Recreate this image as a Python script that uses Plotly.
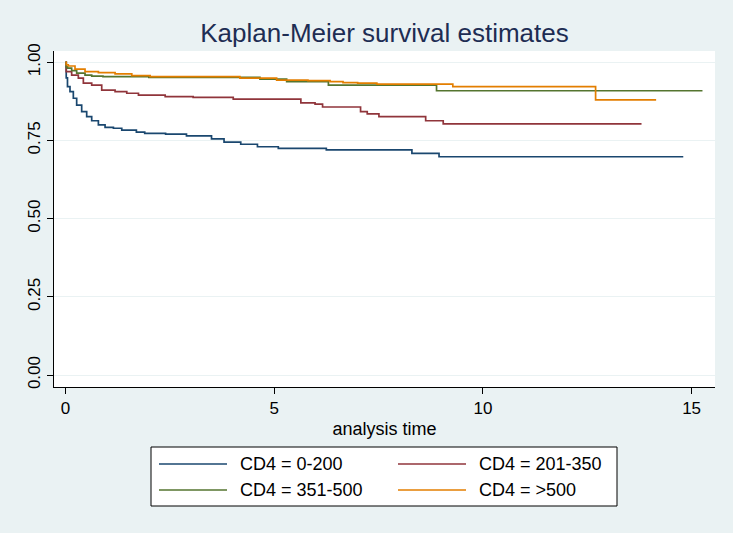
import plotly.graph_objects as go

# Kaplan-Meier step curves
groups = ["CD4 = 0-200", "CD4 = 201-350", "CD4 = 351-500", "CD4 = >500"]
colors = ["#1a476f", "#90353b", "#55752f", "#e37e00"]

t_0_200 = [0, 0.02, 0.05, 0.11, 0.19, 0.27, 0.39, 0.51, 0.63, 0.79, 0.95, 1.15, 1.35,
           1.7, 1.9, 2.4, 2.9, 3.5, 3.8, 4.2, 4.6, 5.1, 6.25, 8.3, 8.95, 14.8]
s_0_200 = [1, 0.95, 0.922, 0.906, 0.885, 0.863, 0.842, 0.826, 0.813, 0.80, 0.792, 0.789, 0.783,
           0.777, 0.773, 0.770, 0.765, 0.755, 0.745, 0.738, 0.730, 0.725, 0.720, 0.709, 0.698, 0.698]

t_201_350 = [0, 0.02, 0.15, 0.31, 0.43, 0.63, 0.87, 1.19, 1.47, 1.75, 2.39, 3.06, 4.02,
             5.64, 5.98, 6.16, 7.07, 7.23, 7.51, 8.63, 9.05, 13.8]
s_201_350 = [1, 0.97, 0.959, 0.949, 0.933, 0.927, 0.911, 0.906, 0.901, 0.895, 0.89, 0.888, 0.882,
             0.87, 0.866, 0.857, 0.842, 0.835, 0.826, 0.813, 0.803, 0.803]

t_351_500 = [0, 0.02, 0.05, 0.15, 0.27, 0.47, 0.63, 0.9, 2.0, 4.66, 5.3, 6.3, 8.89, 15.26]
s_351_500 = [1, 0.985, 0.981, 0.973, 0.965, 0.959, 0.956, 0.954, 0.952, 0.946, 0.938, 0.927, 0.909, 0.909]

t_500 = [0, 0.02, 0.07, 0.23, 0.47, 0.79, 1.19, 1.59, 2.03, 4.18, 5.06, 5.81, 6.34,
         6.65, 7.0, 7.46, 9.28, 12.7, 14.15]
s_500 = [1, 0.992, 0.988, 0.978, 0.97, 0.967, 0.963, 0.957, 0.954, 0.949, 0.943, 0.941, 0.938,
         0.935, 0.933, 0.930, 0.922, 0.880, 0.880]

times = [t_0_200, t_201_350, t_351_500, t_500]
surv = [s_0_200, s_201_350, s_351_500, s_500]

x_ticks = [0, 5, 10, 15]
y_ticks = [0, 0.25, 0.5, 0.75, 1]
y_ticklabels = ["0.00", "0.25", "0.50", "0.75", "1.00"]

BG = "#eaf2f3"
W, H = 733, 533
ML, MR, MT, MB = 54, 18, 51, 146
PW, PH = W - ML - MR, H - MT - MB

fig = go.Figure()
for name, c, t, s in zip(groups, colors, times, surv):
    fig.add_trace(go.Scatter(x=t, y=s, mode="lines", name=name, line_shape="hv",
                             line=dict(color=c, width=1.7), showlegend=False))


def px_x(p):
    return (p - ML) / PW


def px_y(p):
    return (H - MB - p) / PH


# hand-made legend box like Stata's (longer key lines than plotly's own legend)
shapes = [dict(type="rect", xref="paper", yref="paper",
               x0=px_x(151), x1=px_x(617), y0=px_y(506), y1=px_y(447),
               line=dict(color="black", width=1), fillcolor="white")]
annotations = []
cols = [(159, 238), (398, 477)]
rows = [464, 490]
for i, (name, c) in enumerate(zip(groups, colors)):
    lx, tx = cols[i % 2]
    ry = rows[i // 2]
    shapes.append(dict(type="line", xref="paper", yref="paper",
                       x0=px_x(lx), x1=px_x(lx + 68), y0=px_y(ry), y1=px_y(ry),
                       line=dict(color=c, width=1.7)))
    annotations.append(dict(text=name, xref="paper", yref="paper", x=px_x(tx), y=px_y(ry),
                            xanchor="left", yanchor="middle", showarrow=False,
                            font=dict(size=18, color="black")))

fig.update_layout(
    width=W, height=H,
    margin=dict(l=ML, r=MR, t=MT, b=MB),
    paper_bgcolor=BG, plot_bgcolor="white",
    font=dict(family="Liberation Sans, Arial, sans-serif", color="black"),
    title=dict(text="Kaplan-Meier survival estimates", x=0.5, xref="paper",
               y=1 - 33 / H, yanchor="middle",
               font=dict(size=26, color="#1e2d53")),
    shapes=shapes, annotations=annotations,
)
fig.update_xaxes(range=[-0.273, 15.56], tickvals=x_ticks, ticks="outside", ticklen=6,
                 tickcolor="black", showline=True, linecolor="black", linewidth=1,
                 showgrid=False, zeroline=False, tickfont=dict(size=17),
                 title=dict(text="analysis time", font=dict(size=18), standoff=4))
fig.update_yaxes(range=[-0.038, 1.036], tickvals=y_ticks, ticktext=y_ticklabels,
                 tickangle=-90, ticks="outside", ticklen=6, tickcolor="black",
                 showline=True, linecolor="black", linewidth=1,
                 showgrid=True, gridcolor=BG, gridwidth=1, zeroline=False,
                 tickfont=dict(size=17))

# drop the page's default body margin so the figure fills the window
fig.write_html("out.html", config={"displayModeBar": False},
               post_script="document.body.style.margin='0';")
